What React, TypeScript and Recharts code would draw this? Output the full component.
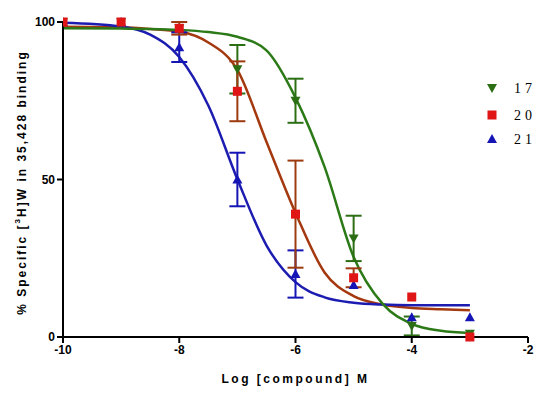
import {
  ComposedChart,
  Line,
  Scatter,
  ErrorBar,
  XAxis,
  YAxis,
} from "recharts";

// x positions (log molar) of measured points
const doses = [-10, -9, -8, -7, -6, -5, -4, -3];

// compound 17 (green, down triangle)
const c17Mean = [100, 100, 98, 85, 75, 31.3, 3.5, 1];
const c17Err = [0, 0, 0, 7.7, 7, 7.2, 3, 0];
// compound 20 (red square)
const c20Mean = [100, 100, 98, 78, 39, 18.8, 12.7, 0];
const c20Err = [0, 0, 2, 9.5, 17, 3, 0, 0];
// compound 21 (blue up triangle)
const c21Mean = [100, 100, 92, 50, 20, 16.5, 6.3, 6.3];
const c21Err = [0, 0, 4.7, 8.5, 7.5, 0, 0, 0];

// fitted curves
const curveX = [-10, -9, -8.5, -8, -7.5, -7, -6.5, -6, -5.5, -5, -4.5, -4, -3.5, -3];
const c17Curve = [98, 97.9, 97.8, 97.5, 96.8, 95.3, 91, 76, 54, 25.4, 10.5, 4.2, 2, 1.3];
const c20Curve = [98.5, 98.3, 97.8, 97, 93.5, 84.8, 62, 39.4, 20.5, 13, 10.3, 9.2, 8.8, 8.5];
const c21Curve = [99.8, 98.6, 96, 88.9, 73.5, 50.1, 29.1, 17.4, 12.6, 10.9, 10.3, 10.1, 10.1, 10.1];

const xTicks = [-10, -8, -6, -4, -2];
const yTicks = [0, 50, 100];

const legendItems = [
  { label: "17", shape: "down", color: "#2b6e14", y: 88 },
  { label: "20", shape: "square", color: "#e01515", y: 115 },
  { label: "21", shape: "up", color: "#1515b5", y: 139 },
];

const toPoints = (mean: number[], err: number[]) =>
  doses.map((x, i) => ({ x, y: mean[i], e: err[i] }));
const toCurve = (ys: number[]) => curveX.map((x, i) => ({ x, y: ys[i] }));

const marker = (kind: string, color: string, cx: number, cy: number, s = 5) => {
  if (kind === "square")
    return <rect x={cx - s + 0.5} y={cy - s + 0.5} width={2 * s - 1} height={2 * s - 1} fill={color} />;
  if (kind === "down")
    return <path d={`M${cx - s},${cy - s + 1}L${cx + s},${cy - s + 1}L${cx},${cy + s}Z`} fill={color} />;
  return <path d={`M${cx - s},${cy + s - 1}L${cx + s},${cy + s - 1}L${cx},${cy - s}Z`} fill={color} />;
};

const shapeFor = (kind: string, color: string) => (p: any) =>
  marker(kind, color, p.cx, p.cy);

const axisFont = {
  fontFamily: "Liberation Sans, Arial, sans-serif",
  fontWeight: 700,
  fontSize: 12,
  fill: "#000",
};

const YLabel = (props: any) => {
  const vb = props.viewBox;
  const cx = 22;
  const cy = vb.y + vb.height / 2 + 3;
  return (
    <text
      x={cx}
      y={cy}
      transform={`rotate(-90 ${cx} ${cy})`}
      textAnchor="middle"
      dominantBaseline="central"
      style={{ ...axisFont, letterSpacing: "2px" }}
    >
      % Specific [<tspan dy={-5} fontSize={8}>3</tspan>
      <tspan dy={5}>H]W in 35,428 binding</tspan>
    </text>
  );
};

const XLabel = (props: any) => {
  const vb = props.viewBox;
  return (
    <text
      x={vb.x + vb.width / 2}
      y={383}
      textAnchor="middle"
      style={{ ...axisFont, letterSpacing: "2.5px" }}
    >
      Log [compound] M
    </text>
  );
};

const LegendBox = () => (
  <svg width={70} height={80} style={{ position: "absolute", left: 480, top: 75 }}>
    {legendItems.map((it) => (
      <g key={it.label}>
        {marker(it.shape, it.color, 12, it.y - 75, 5)}
        <text
          x={34}
          y={it.y - 75 + 5}
          style={{ fontFamily: "Liberation Serif, serif", fontSize: 14, letterSpacing: "4px" }}
        >
          {it.label}
        </text>
      </g>
    ))}
  </svg>
);

export default function App() {
  return (
    <div style={{ position: "absolute", left: 0, top: 0, width: 550, height: 399, background: "#fff" }}>
      <ComposedChart width={550} height={399} margin={{ top: 22, right: 22, bottom: 22, left: 8 }}>
        <XAxis
          type="number"
          dataKey="x"
          domain={[-10, -2]}
          ticks={xTicks}
          allowDataOverflow
          height={40}
          stroke="#000"
          strokeWidth={2}
          tickSize={6}
          tick={axisFont}
          tickLine={{ stroke: "#000", strokeWidth: 2 }}
          label={<XLabel />}
        />
        <YAxis
          type="number"
          dataKey="y"
          domain={[0, 100]}
          ticks={yTicks}
          width={55}
          stroke="#000"
          strokeWidth={2}
          tickSize={6}
          tick={axisFont}
          tickLine={{ stroke: "#000", strokeWidth: 2 }}
          label={<YLabel />}
        />
        <Line data={toCurve(c20Curve)} dataKey="y" type="monotone" stroke="#a4380f" strokeWidth={2.5} dot={false} isAnimationActive={false} legendType="none" />
        <Line data={toCurve(c21Curve)} dataKey="y" type="monotone" stroke="#1c1cb0" strokeWidth={2.5} dot={false} isAnimationActive={false} legendType="none" />
        <Line data={toCurve(c17Curve)} dataKey="y" type="monotone" stroke="#2b7a17" strokeWidth={2.5} dot={false} isAnimationActive={false} legendType="none" />
        <Scatter data={toPoints(c21Mean, c21Err)} dataKey="y" shape={shapeFor("up", "#1515b5")} isAnimationActive={false}>
          <ErrorBar dataKey="e" direction="y" width={8} stroke="#1515b5" strokeWidth={2} />
        </Scatter>
        <Scatter data={toPoints(c17Mean, c17Err)} dataKey="y" shape={shapeFor("down", "#2b6e14")} isAnimationActive={false}>
          <ErrorBar dataKey="e" direction="y" width={8} stroke="#2b6e14" strokeWidth={2} />
        </Scatter>
        <Scatter data={toPoints(c20Mean, c20Err)} dataKey="y" shape={shapeFor("square", "#e01515")} isAnimationActive={false}>
          <ErrorBar dataKey="e" direction="y" width={8} stroke="#9c3a10" strokeWidth={2} />
        </Scatter>
      </ComposedChart>
      <LegendBox />
    </div>
  );
}
